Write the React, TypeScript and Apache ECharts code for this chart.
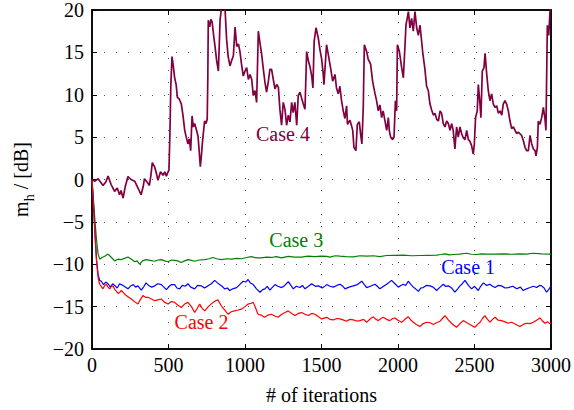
import React, { useEffect, useRef } from "react";
import * as echarts from "echarts";

const xTicks = [0, 500, 1000, 1500, 2000, 2500, 3000];
const yTicks = [-20, -15, -10, -5, 0, 5, 10, 15, 20];

const case4: [number, number][] = [
  [0, 0], [20, -0.2], [40, 0.1], [72, -0.7], [90, -0.3], [105, 0.4], [125, -0.6], [148, -1.4], [165, -1.0], [180, -1.8],
  [190, -1.3], [203, -2.2], [218, -0.8], [235, 0.35], [255, 0.0], [279, -0.2], [300, -1.0], [321, -1.8], [335, -0.8], [343, 0.1],
  [360, -0.3], [375, -0.7], [385, 0.5], [394, 2.0], [409, 1.5], [420, 0.8], [431, -0.1], [448, 0.9], [464, 0.5], [476, 0.9],
  [486, 0.4], [495, 0.8], [503, 1.1], [510, 6.0], [515, 11.0], [523, 14.5], [532, 13.3], [540, 12.0], [550, 11.2], [558, 9.7],
  [570, 9.5], [584, 8.9], [595, 7.5], [606, 5.8], [616, 5.0], [627, 4.2], [636, 4.8], [645, 3.4], [654, 7.5], [662, 6.2],
  [671, 6.6], [682, 5.9], [693, 5.1], [700, 3.5], [708, 1.5], [715, 2.8], [721, 4.2], [728, 5.5], [736, 6.9], [745, 6.6],
  [753, 7.1], [757, 12.0], [760, 18.8], [769, 18.0], [777, 18.9], [785, 18.6], [795, 17.0], [804, 15.7], [815, 14.0], [826, 12.8],
  [832, 16.0], [837, 18.8], [848, 20.5], [860, 21], [869, 20.3], [880, 16.5], [890, 14.5], [902, 13.4], [912, 14.0], [924, 14.6],
  [935, 18.0], [946, 15.7], [957, 16.0], [967, 15.1], [978, 13.5], [989, 12.2], [1000, 12.8], [1011, 13.2], [1022, 11.8], [1033, 12.4],
  [1044, 11.8], [1054, 9.9], [1065, 10.5], [1076, 9.1], [1087, 17.5], [1098, 16.1], [1108, 14.9], [1120, 13.0], [1131, 11.4], [1141, 10.3],
  [1152, 11.5], [1163, 13.0], [1174, 13.0], [1185, 11.8], [1196, 10.7], [1207, 11.2], [1218, 10.9], [1228, 8.3], [1239, 6.4], [1250, 9.1],
  [1261, 8.3], [1272, 6.4], [1283, 7.6], [1294, 6.8], [1305, 9.1], [1315, 7.9], [1326, 9.1], [1338, 6.4], [1348, 9.9], [1359, 10.3],
  [1370, 9.6], [1381, 8.9], [1392, 8.3], [1403, 15.1], [1414, 14.0], [1425, 13.3], [1436, 12.2], [1444, 10.8], [1452, 16.3], [1464, 17.9],
  [1479, 16.7], [1490, 15.3], [1501, 14.2], [1511, 12.5], [1516, 11.2], [1533, 15.9], [1544, 14.8], [1559, 13.2], [1573, 11.6], [1588, 12.4],
  [1598, 10.8], [1610, 10.1], [1620, 11.0], [1631, 9.3], [1642, 8.1], [1653, 7.2], [1664, 8.7], [1670, 6.5], [1686, 7.0], [1697, 6.3],
  [1704, 5.8], [1712, 3.8], [1725, 3.4], [1734, 6.5], [1747, 6.8], [1756, 5.3], [1764, 4.2], [1773, 8.5], [1780, 15.9], [1795, 15.1],
  [1805, 14.2], [1821, 13.6], [1834, 11.6], [1850, 10.1], [1860, 9.3], [1871, 8.1], [1882, 8.8], [1893, 7.3], [1903, 8.1], [1914, 7.0],
  [1926, 5.8], [1937, 7.3], [1943, 5.8], [1952, 5.0], [1965, 4.7], [1974, 5.0], [1983, 9.3], [1991, 8.1], [1996, 15.9], [2009, 15.1],
  [2024, 13.2], [2035, 12.0], [2046, 15.9], [2052, 18.2], [2068, 19.8], [2078, 17.9], [2089, 19.0], [2100, 17.5], [2111, 19.8], [2122, 17.9],
  [2133, 17.0], [2144, 18.2], [2161, 15.1], [2176, 13.0], [2187, 11.0], [2198, 10.5], [2209, 8.9], [2220, 8.2], [2231, 7.6], [2242, 7.8],
  [2253, 7.1], [2264, 6.9], [2275, 8.1], [2285, 7.8], [2296, 6.6], [2307, 6.2], [2318, 6.9], [2329, 6.6], [2340, 5.8], [2351, 6.6],
  [2361, 5.8], [2372, 3.6], [2383, 6.2], [2394, 5.0], [2405, 6.2], [2416, 5.4], [2427, 4.9], [2438, 4.7], [2449, 5.8], [2460, 4.7],
  [2470, 4.5], [2481, 4.0], [2492, 3.0], [2499, 4.2], [2507, 7.3], [2518, 8.1], [2525, 11.2], [2536, 8.9], [2542, 7.3], [2551, 12.8],
  [2562, 13.2], [2569, 14.9], [2580, 12.4], [2590, 10.5], [2601, 9.3], [2612, 10.1], [2623, 8.9], [2634, 8.5], [2645, 8.7], [2656, 7.8],
  [2667, 8.1], [2678, 7.6], [2688, 8.9], [2699, 9.3], [2710, 8.9], [2721, 8.1], [2732, 6.9], [2743, 6.0], [2754, 6.2], [2765, 5.8],
  [2776, 5.4], [2786, 5.6], [2797, 5.4], [2808, 5.2], [2819, 4.6], [2830, 3.8], [2841, 3.4], [2852, 3.4], [2863, 5.2], [2874, 4.2],
  [2885, 3.6], [2896, 3.4], [2902, 2.8], [2911, 3.8], [2917, 6.9], [2928, 6.5], [2939, 7.3], [2950, 8.5], [2961, 7.1], [2967, 5.8],
  [2976, 18.2], [2985, 17.0], [2994, 20.0], [3000, 21],
];

const case1: [number, number][] = [
  [0, 0], [10, -3], [20, -6.5], [30, -9.5], [40, -11.2], [50, -11.9], [61, -12.0], [75, -12.4], [90, -12.1], [105, -12.3],
  [120, -12.7], [135, -12.3], [148, -12.5], [165, -12.8], [180, -12.3], [192, -12.4], [210, -12.6], [235, -12.9], [250, -12.6], [270, -12.4],
  [285, -12.7], [300, -12.55], [322, -13.05], [340, -12.6], [353, -12.2], [370, -12.5], [390, -12.7], [410, -12.55], [430, -12.3], [453, -12.4],
  [470, -12.7], [486, -13.0], [505, -12.6], [520, -12.4], [540, -12.4], [555, -12.8], [573, -12.9], [590, -12.5], [610, -12.6], [627, -12.3],
  [645, -12.7], [671, -12.9], [690, -12.5], [714, -12.55], [735, -12.8], [758, -12.55], [780, -12.3], [802, -11.9], [820, -12.2], [834, -12.4],
  [850, -12.6], [867, -12.9], [885, -12.8], [900, -13.1], [920, -12.9], [945, -12.75], [965, -12.4], [988, -12.0], [1005, -12.1], [1020, -11.8],
  [1035, -12.2], [1054, -12.4], [1075, -12.9], [1098, -13.3], [1115, -13.0], [1130, -12.9], [1145, -12.6], [1163, -13.05], [1180, -12.7], [1196, -12.4],
  [1215, -12.6], [1240, -12.75], [1260, -12.5], [1283, -12.05], [1300, -12.5], [1316, -12.9], [1335, -12.6], [1359, -12.75], [1375, -12.5], [1392, -12.9],
  [1415, -12.6], [1436, -12.3], [1460, -12.6], [1480, -12.55], [1505, -12.8], [1524, -12.55], [1534, -12.4], [1555, -12.6], [1577, -12.7], [1600, -12.5],
  [1621, -12.36], [1640, -12.6], [1654, -12.9], [1680, -12.7], [1708, -12.55], [1735, -12.4], [1763, -12.0], [1780, -12.4], [1795, -12.75], [1820, -12.6],
  [1849, -12.36], [1865, -12.6], [1882, -12.9], [1905, -12.6], [1926, -12.36], [1958, -11.9], [1980, -12.3], [2002, -12.7], [2018, -12.5], [2034, -12.36],
  [2050, -12.5], [2067, -12.0], [2085, -12.4], [2100, -12.7], [2115, -12.9], [2133, -13.2], [2150, -12.8], [2165, -12.75], [2185, -12.5], [2209, -12.55],
  [2230, -12.7], [2252, -13.1], [2275, -12.7], [2296, -12.36], [2310, -12.6], [2329, -12.55], [2350, -12.8], [2372, -13.3], [2390, -12.9], [2405, -12.55],
  [2420, -12.3], [2438, -11.9], [2460, -12.5], [2481, -12.9], [2500, -12.6], [2525, -13.1], [2540, -12.6], [2558, -12.2], [2580, -12.5], [2601, -12.36],
  [2618, -12.6], [2634, -12.75], [2655, -12.5], [2677, -12.55], [2700, -12.8], [2721, -12.75], [2750, -12.6], [2776, -12.9], [2800, -12.7], [2819, -13.1],
  [2840, -12.9], [2863, -12.75], [2885, -12.6], [2906, -12.75], [2925, -12.5], [2939, -12.55], [2955, -12.8], [2971, -13.3], [2985, -13.0], [2993, -12.75],
  [3000, -12.5],
];

const case2: [number, number][] = [
  [0, 0], [10, -3.2], [20, -6.8], [30, -9.8], [40, -11.6], [50, -12.36], [60, -12.6], [72, -12.9], [83, -12.5], [94, -12.36],
  [105, -12.7], [116, -12.9], [127, -12.6], [137, -12.55], [150, -13.0], [160, -13.2], [170, -13.45], [182, -13.3], [192, -13.1], [208, -13.4],
  [224, -13.7], [240, -13.9], [257, -14.1], [270, -14.3], [285, -14.5], [300, -14.7], [315, -14.2], [333, -13.7], [350, -13.9], [366, -13.9],
  [388, -14.1], [410, -14.3], [430, -14.2], [453, -14.1], [475, -14.5], [497, -14.7], [520, -14.4], [540, -14.5], [560, -14.8], [584, -15.1],
  [605, -14.7], [627, -14.5], [650, -15.0], [671, -15.7], [688, -15.2], [704, -14.7], [720, -15.2], [737, -15.5], [760, -15.0], [791, -14.5],
  [808, -14.3], [823, -14.2], [845, -14.9], [868, -15.4], [889, -15.9], [910, -15.6], [932, -15.5], [955, -15.4], [976, -15.3], [1000, -15.0],
  [1020, -14.7], [1040, -14.6], [1054, -14.5], [1070, -15.2], [1085, -15.9], [1105, -16.0], [1128, -16.25], [1150, -16.0], [1172, -15.9], [1195, -16.1],
  [1216, -16.25], [1240, -15.9], [1262, -15.7], [1283, -15.5], [1305, -15.8], [1326, -16.05], [1348, -15.8], [1370, -15.7], [1392, -15.9], [1414, -16.05],
  [1436, -15.8], [1457, -15.9], [1480, -16.2], [1501, -16.45], [1534, -16.26], [1555, -16.5], [1577, -16.57], [1600, -16.4], [1621, -16.45], [1645, -16.6],
  [1665, -16.73], [1685, -16.5], [1708, -16.57], [1730, -16.7], [1752, -16.65], [1775, -16.5], [1795, -16.84], [1815, -16.5], [1839, -16.2], [1855, -16.5],
  [1871, -16.65], [1888, -16.4], [1904, -16.26], [1925, -16.5], [1947, -16.65], [1965, -16.4], [1980, -16.34], [2000, -16.6], [2024, -16.84], [2045, -16.5],
  [2067, -16.2], [2085, -16.6], [2100, -16.84], [2120, -17.1], [2143, -17.35], [2165, -17.0], [2187, -16.84], [2210, -16.9], [2230, -17.1], [2252, -16.9],
  [2274, -16.73], [2290, -16.4], [2307, -16.06], [2330, -16.6], [2350, -16.96], [2365, -17.2], [2383, -17.43], [2405, -17.0], [2427, -16.65], [2450, -16.9],
  [2470, -17.1], [2487, -17.3], [2503, -17.43], [2520, -17.1], [2536, -16.84], [2552, -16.4], [2568, -16.06], [2585, -16.5], [2601, -16.84], [2618, -16.5],
  [2634, -16.26], [2655, -16.6], [2677, -16.65], [2700, -16.8], [2721, -16.96], [2743, -16.84], [2765, -17.04], [2780, -17.2], [2797, -17.35], [2818, -17.1],
  [2840, -16.96], [2862, -17.0], [2884, -16.84], [2906, -16.6], [2928, -16.34], [2945, -16.7], [2960, -16.96], [2978, -16.8], [2993, -17.04], [3000, -16.9],
];

const case3: [number, number][] = [
  [0, 0], [10, -2.5], [20, -5], [30, -7.2], [40, -8.8], [50, -9.4], [65, -9.2], [83, -9.05], [95, -8.9], [105, -8.8],
  [116, -9.0], [127, -9.2], [148, -9.6], [170, -9.4], [192, -9.45], [212, -9.3], [235, -9.15], [258, -9.4], [279, -9.7], [295, -9.6],
  [311, -10.0], [330, -9.6], [353, -9.45], [380, -9.55], [410, -9.65], [430, -9.5], [453, -9.45], [475, -9.6], [497, -9.7], [520, -9.5],
  [540, -9.55], [560, -9.6], [584, -9.8], [605, -9.6], [627, -9.45], [650, -9.55], [671, -9.65], [700, -9.5], [737, -9.45], [765, -9.35],
  [791, -9.2], [815, -9.35], [845, -9.45], [880, -9.35], [911, -9.4], [945, -9.3], [976, -9.35], [1010, -9.2], [1041, -9.1], [1075, -9.25],
  [1107, -9.25], [1140, -9.15], [1172, -9.2], [1205, -9.1], [1238, -9.25], [1260, -9.15], [1283, -9.08], [1325, -9.15], [1370, -9.15], [1410, -9.05],
  [1457, -9.1], [1500, -9.05], [1534, -9.08], [1555, -9.16], [1590, -9.0], [1621, -9.05], [1660, -9.1], [1708, -9.12], [1750, -9.0], [1795, -9.05],
  [1840, -9.0], [1880, -9.1], [1926, -8.97], [1980, -8.95], [2034, -8.93], [2090, -9.0], [2143, -8.97], [2200, -8.95], [2252, -8.93], [2280, -8.85],
  [2307, -8.77], [2335, -8.9], [2361, -8.85], [2400, -8.8], [2448, -8.7], [2480, -8.82], [2514, -8.85], [2545, -8.78], [2579, -8.81], [2630, -8.8],
  [2688, -8.77], [2740, -8.82], [2797, -8.77], [2840, -8.8], [2884, -8.7], [2940, -8.78], [2993, -8.81], [3000, -8.8],
];

const labelPositions: { name: string; coord: [number, number] }[] = [
  { name: "Case 1", coord: [2458, -10.3] },
  { name: "Case 2", coord: [716, -16.8] },
  { name: "Case 3", coord: [1335, -7.1] },
  { name: "Case 4", coord: [1248, 5.4] },
];

const colors: Record<string, string> = {
  "Case 1": "#0000ff",
  "Case 2": "#ff0000",
  "Case 3": "#008000",
  "Case 4": "#800040",
};

const FONT = "'Liberation Serif', 'Times New Roman', serif";

export default function App() {
  const ref = useRef<HTMLDivElement>(null);
  useEffect(() => {
    if (!ref.current) return;
    const chart = echarts.init(ref.current, null, { renderer: "svg" });
    const fmtY = (v: number) => (v < 0 ? "\u2212" + Math.abs(v) : String(v));
    const fmtX = (v: number) => String(v);
    const dotted = () => ({ type: [1, 11] as number[], color: "#555", width: 1 });
    const axisLine = () => ({ show: true, onZero: false, lineStyle: { color: "#000", width: 1.5 } });
    const tick = () => ({ show: true, inside: true, length: 5, lineStyle: { color: "#000", width: 1 } });
    const mkSeries = (name: string, data: [number, number][], width: number, z: number) => {
      const lp = labelPositions.find((l) => l.name === name)!;
      return {
        name,
        type: "line",
        data,
        showSymbol: false,
        symbol: "none",
        z,
        lineStyle: { color: colors[name], width },
        markPoint: {
          symbol: "circle",
          symbolSize: 0,
          silent: true,
          data: [{ coord: lp.coord, value: name }],
          label: {
            show: true,
            position: "inside",
            formatter: name,
            color: colors[name],
            fontFamily: FONT,
            fontSize: 20,
          },
        },
      };
    };
    chart.setOption({
      animation: false,
      grid: {
        left: 92,
        right: 23,
        top: 10,
        bottom: 58,
        containLabel: false,
        show: true,
        borderColor: "#000",
        borderWidth: 1.5,
      },
      xAxis: [
        {
          type: "value",
          min: xTicks[0],
          max: xTicks[xTicks.length - 1],
          interval: 500,
          position: "bottom",
          axisLine: axisLine(),
          axisTick: tick(),
          axisLabel: { color: "#000", fontFamily: FONT, fontSize: 20, margin: 6, formatter: fmtX },
          splitLine: { show: true, lineStyle: dotted() },
          name: "# of iterations",
          nameLocation: "middle",
          nameGap: 36,
          nameTextStyle: { color: "#000", fontFamily: FONT, fontSize: 20 },
        },
        {
          type: "value",
          min: xTicks[0],
          max: xTicks[xTicks.length - 1],
          interval: 500,
          position: "top",
          axisLine: axisLine(),
          axisTick: tick(),
          axisLabel: { show: false },
          splitLine: { show: false },
        },
      ],
      yAxis: [
        {
          type: "value",
          min: yTicks[0],
          max: yTicks[yTicks.length - 1],
          interval: 5,
          position: "left",
          axisLine: axisLine(),
          axisTick: tick(),
          axisLabel: { color: "#000", fontFamily: FONT, fontSize: 20, margin: 8, formatter: fmtY },
          splitLine: { show: true, lineStyle: dotted() },
          name: "{m|m}{h|h}{r| / [dB]}",
          nameLocation: "middle",
          nameGap: 56,
          nameTextStyle: {
            color: "#000",
            fontFamily: FONT,
            fontSize: 20,
            rich: {
              m: { fontFamily: FONT, fontSize: 20, lineHeight: 30, verticalAlign: "middle", color: "#000" },
              h: { fontFamily: FONT, fontSize: 14, lineHeight: 14, verticalAlign: "bottom", color: "#000" },
              r: { fontFamily: FONT, fontSize: 20, lineHeight: 30, verticalAlign: "middle", color: "#000" },
            },
          },
        },
        {
          type: "value",
          min: yTicks[0],
          max: yTicks[yTicks.length - 1],
          interval: 5,
          position: "right",
          axisLine: axisLine(),
          axisTick: tick(),
          axisLabel: { show: false },
          splitLine: { show: false },
        },
      ],
      series: [
        mkSeries("Case 3", case3, 1.2, 2),
        mkSeries("Case 1", case1, 1.2, 3),
        mkSeries("Case 2", case2, 1.2, 4),
        mkSeries("Case 4", case4, 1.7, 5),
      ],
    });
    return () => chart.dispose();
  }, []);
  return <div ref={ref} style={{ width: 574, height: 410, position: "absolute", left: 0, top: 0 }} />;
}
